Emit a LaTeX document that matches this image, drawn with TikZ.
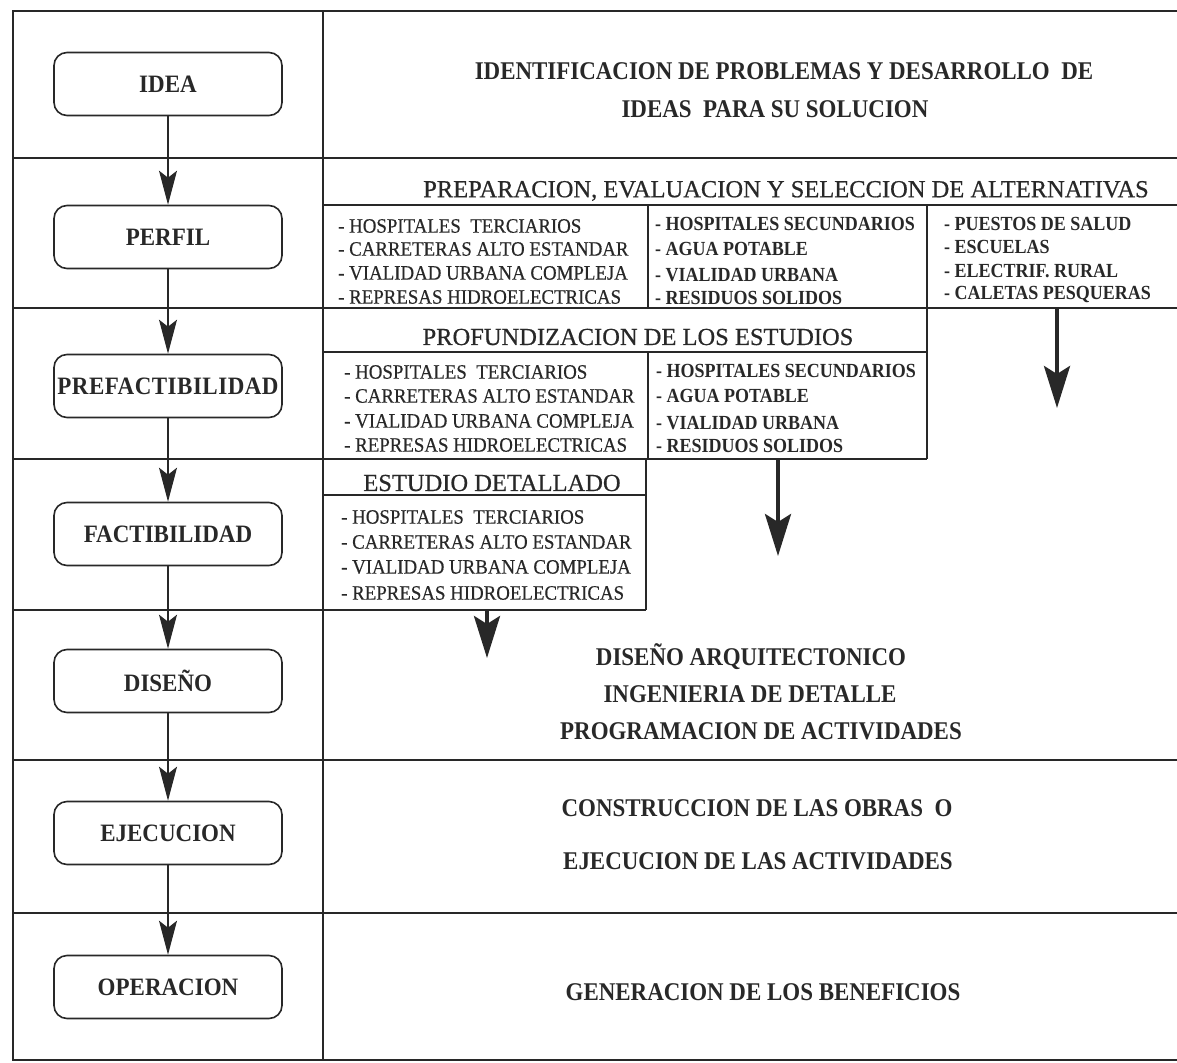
\documentclass[tikz,border=0pt]{standalone}
\usepackage{fontspec}
\setmainfont{Liberation Serif}
\newfontfamily\itemfont[FakeStretch=0.92,FakeBold=0.4]{Liberation Serif}
\newfontfamily\itemboldfont[FakeStretch=0.9]{Liberation Serif Bold}
\newfontfamily\headfont[FakeBold=0.6]{Liberation Serif}
\newfontfamily\labelfont[FakeStretch=0.92]{Liberation Serif Bold}
\newfontfamily\mainfont[FakeStretch=0.9]{Liberation Serif Bold}
\usetikzlibrary{arrows.meta}
\definecolor{ink}{RGB}{40,40,40}
\begin{document}
\begin{tikzpicture}[x=1pt,y=-1pt,
  frame/.style={draw=ink,line width=2.6pt},
  subline/.style={draw=ink,line width=2.2pt},
  stage/.style={draw=ink,line width=1.6pt,rounded corners=13pt,
    minimum width=228pt,minimum height=63pt,inner sep=0pt,text=ink,
    font=\labelfont\fontsize{25}{27}\selectfont},
  maintext/.style={inner sep=0pt,text=ink,font=\mainfont\fontsize{25.5}{27}\selectfont},
  headtext/.style={inner sep=0pt,text=ink,font=\headfont\fontsize{24.5}{26}\selectfont},
  itemA/.style={inner sep=0pt,anchor=west,text=ink,font=\itemfont\fontsize{20.5}{22}\selectfont},
  itemB/.style={inner sep=0pt,anchor=west,text=ink,font=\itemboldfont\fontsize{20}{22}\selectfont},
  flow/.style={draw=ink,line width=1.4pt,-{Stealth[length=34pt,width=18pt,inset=7pt]}},
  bigflow/.style={draw=ink,line width=4pt,-{Stealth[length=42pt,width=26pt,inset=8pt]}}
]
\useasboundingbox (0,0) rectangle (1177,1062);

% ---- stages (left column) ----
\node[stage] (idea)   at (168,84)  {IDEA};
\node[stage] (perfil) at (168,237) {PERFIL};
\node[stage] (prefac) at (168,386) {\addfontfeatures{LetterSpace=2}PREFACTIBILIDAD};
\node[stage] (factib) at (168,534) {FACTIBILIDAD};
\node[stage] (diseno) at (168,681) {DISEÑO};
\node[stage] (ejec)   at (168,833) {EJECUCION};
\node[stage] (oper)   at (168,987) {OPERACION};

\draw[flow] (idea) -- (perfil);
\draw[flow] (perfil) -- (prefac);
\draw[flow] (prefac) -- (factib);
\draw[flow] (factib) -- (diseno);
\draw[flow] (diseno) -- (ejec);
\draw[flow] (ejec) -- (oper);

% ---- row 1 ----
\node[maintext] (t1a) at (784,71)  {IDENTIFICACION DE PROBLEMAS Y DESARROLLO\ \ DE};
\node[maintext] (t1b) at (775,109) {IDEAS\ \ PARA SU SOLUCION};

% ---- row 2: perfil ----
\node[headtext] (h2) at (786,191) {PREPARACION, EVALUACION Y SELECCION DE ALTERNATIVAS};
\node[itemA] (p1) at (338,226) {- HOSPITALES\ \ TERCIARIOS};
\node[itemA] (p2) at (338,249) {- CARRETERAS ALTO ESTANDAR};
\node[itemA] (p3) at (338,273) {- VIALIDAD URBANA COMPLEJA};
\node[itemA] (p4) at (338,297) {- REPRESAS HIDROELECTRICAS};
\node[itemB] (q1) at (655,224) {- HOSPITALES SECUNDARIOS};
\node[itemB] (q2) at (655,249) {- AGUA POTABLE};
\node[itemB] (q3) at (655,275) {- VIALIDAD URBANA};
\node[itemB] (q4) at (655,298) {- RESIDUOS SOLIDOS};
\node[itemB] (r1) at (944,224) {- PUESTOS DE SALUD};
\node[itemB] (r2) at (944,247) {- ESCUELAS};
\node[itemB] (r3) at (944,271) {- ELECTRIF. RURAL};
\node[itemB] (r4) at (944,294) {- CALETAS PESQUERAS};

% ---- row 3: prefactibilidad ----
\node[headtext] (h3) at (638,337) {PROFUNDIZACION DE LOS ESTUDIOS};
\node[itemA] (s1) at (344,372) {- HOSPITALES\ \ TERCIARIOS};
\node[itemA] (s2) at (344,396) {- CARRETERAS ALTO ESTANDAR};
\node[itemA] (s3) at (344,421) {- VIALIDAD URBANA COMPLEJA};
\node[itemA] (s4) at (344,445) {- REPRESAS HIDROELECTRICAS};
\node[itemB] (u1) at (656,371) {- HOSPITALES SECUNDARIOS};
\node[itemB] (u2) at (656,396) {- AGUA POTABLE};
\node[itemB] (u3) at (656,423) {- VIALIDAD URBANA};
\node[itemB] (u4) at (656,446) {- RESIDUOS SOLIDOS};

% ---- row 4: factibilidad ----
\node[headtext] (h4) at (492,483) {ESTUDIO DETALLADO};
\node[itemA] (v1) at (341,517) {- HOSPITALES\ \ TERCIARIOS};
\node[itemA] (v2) at (341,542) {- CARRETERAS ALTO ESTANDAR};
\node[itemA] (v3) at (341,567) {- VIALIDAD URBANA COMPLEJA};
\node[itemA] (v4) at (341,593) {- REPRESAS HIDROELECTRICAS};

% ---- rows 5 to 7 ----
\node[maintext] (t5a) at (751,657) {DISEÑO ARQUITECTONICO};
\node[maintext] (t5b) at (750,694) {INGENIERIA DE DETALLE};
\node[maintext] (t5c) at (761,731) {PROGRAMACION DE ACTIVIDADES};
\node[maintext] (t6a) at (757,808) {CONSTRUCCION DE LAS OBRAS\ \ O};
\node[maintext] (t6b) at (758,861) {EJECUCION DE LAS ACTIVIDADES};
\node[maintext] (t7)  at (763,992) {GENERACION DE LOS BENEFICIOS};

% ---- table frame ----
\draw[frame] (1177,11) -- (13,11) -- (13,1060) -- (1177,1060);
\draw[frame] (323,11) -- (323,1060);
\draw[frame] (13,158) -- (1177,158);
\draw[frame] (13,308) -- (1177,308);
\draw[frame] (13,459) -- (927,459);
\draw[frame] (13,610) -- (646,610);
\draw[frame] (13,760) -- (1177,760);
\draw[frame] (13,913) -- (1177,913);

% ---- sub-boxes of the study stages ----
\draw[subline] (323,205) -- (1177,205);
\draw[subline] (648,205) -- (648,308);
\draw[subline] (927,205) -- (927,459);
\draw[subline] (323,352) -- (927,352);
\draw[subline] (648,352) -- (648,459);
\draw[subline] (323,495) -- (646,495);
\draw[subline] (646,459) -- (646,610);

% ---- exits of the study groups ----
\coordinate (cTop) at (1057,308);
\coordinate (cEnd) at (1057,408);
\coordinate (bTop) at (778,459);
\coordinate (bEnd) at (778,556);
\coordinate (aTop) at (487,610);
\coordinate (aEnd) at (487,658);
\draw[bigflow] (cTop) -- (cEnd);
\draw[bigflow] (bTop) -- (bEnd);
\draw[bigflow] (aTop) -- (aEnd);
\end{tikzpicture}
\end{document}
